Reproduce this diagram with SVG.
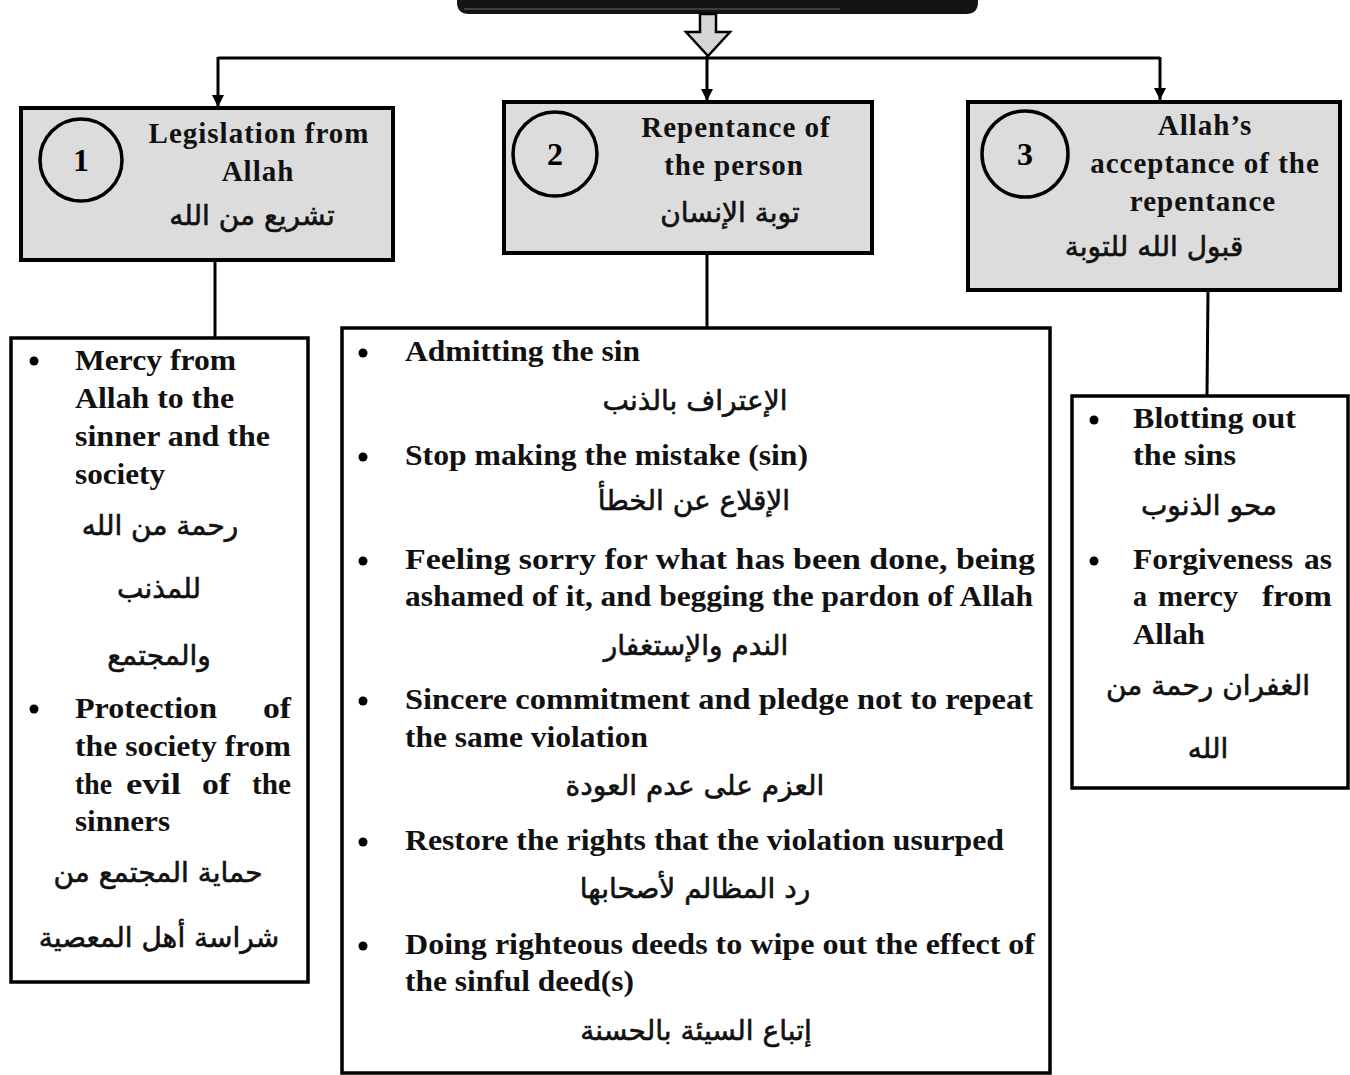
<svg xmlns="http://www.w3.org/2000/svg" width="1350" height="1075" viewBox="0 0 1350 1075">
<style>
.hdr{fill:#dcdcdc;stroke:#000;stroke-width:4}
.box{fill:#fff;stroke:#000;stroke-width:3.5}
.circ{fill:#dcdcdc;stroke:#000;stroke-width:3.5}
.en{font-family:"Liberation Serif","Times New Roman",serif;font-weight:bold;font-size:29px;fill:#111}
.es{font-family:"Liberation Serif","Times New Roman",serif;font-weight:bold;font-size:30px;fill:#111}
.ht{font-family:"Liberation Serif","Times New Roman",serif;font-weight:bold;font-size:29px;fill:#111;text-anchor:middle;letter-spacing:1px}
.num{font-family:"Liberation Serif","Times New Roman",serif;font-weight:bold;font-size:32px;fill:#000;text-anchor:middle}
.ar{font-family:"DejaVu Sans","Noto Sans",sans-serif;font-size:28px;fill:#111;stroke:#111;stroke-width:0.6;text-anchor:middle}
.con{stroke:#000;stroke-width:3;fill:none}
.bul{fill:#000}
</style>
<defs>
<marker id="ah" viewBox="0 0 10 10" refX="10" refY="5" markerWidth="4" markerHeight="4" markerUnits="strokeWidth" orient="auto">
<path d="M0,0 L10,5 L0,10 Z" fill="#000"/>
</marker>
</defs>
<rect width="1350" height="1075" fill="#fff"/>

<g id="top-box">
<path d="M457,-20 L978,-20 L978,2 Q978,14 966,14 L469,14 Q457,14 457,2 Z" fill="#141414"/>
<line x1="464" y1="9" x2="840" y2="9" stroke="#666" stroke-width="1"/>
</g>

<g id="connectors">
<path d="M700,14 L716,14 L716,32 L730,32 L708,56 L686,32 L700,32 Z" fill="#d6d6d6" stroke="#000" stroke-width="2.5"/>
<line class="con" x1="218" y1="58" x2="1160" y2="58"/>
<line class="con" x1="218" y1="57" x2="218" y2="107" marker-end="url(#ah)"/>
<line class="con" x1="707" y1="56" x2="707" y2="101" marker-end="url(#ah)"/>
<line class="con" x1="1160" y1="57" x2="1160" y2="100" marker-end="url(#ah)"/>
<line class="con" x1="215" y1="260" x2="215" y2="337"/>
<line class="con" x1="707" y1="253" x2="707" y2="327"/>
<line class="con" x1="1208" y1="290" x2="1207" y2="395"/>
</g>

<g id="node1">
<rect class="hdr" x="21" y="108" width="372" height="152"/>
<circle class="circ" cx="81" cy="160" r="41"/>
<text class="num" x="81" y="171">1</text>
<text class="ht" x="259" y="143">Legislation from</text>
<text class="ht" x="258" y="181">Allah</text>
<text class="ar" x="252" y="225">تشريع من الله</text>
</g>

<g id="node2">
<rect class="hdr" x="504" y="102" width="368" height="151"/>
<circle class="circ" cx="555" cy="154" r="42"/>
<text class="num" x="555" y="165">2</text>
<text class="ht" x="736" y="137">Repentance of</text>
<text class="ht" x="734" y="175">the person</text>
<text class="ar" x="730" y="222">توبة الإنسان</text>
</g>

<g id="node3">
<rect class="hdr" x="968" y="102" width="372" height="188"/>
<circle class="circ" cx="1025" cy="154" r="43"/>
<text class="num" x="1025" y="165">3</text>
<text class="ht" x="1205" y="135">Allah’s</text>
<text class="ht" x="1205" y="173">acceptance of the</text>
<text class="ht" x="1203" y="211">repentance</text>
<text class="ar" x="1154" y="256">قبول الله للتوبة</text>
</g>

<g id="node1-details">
<rect class="box" x="11" y="338" width="297" height="644"/>
<circle class="bul" cx="34" cy="361" r="4.5"/>
<text class="es" x="75" y="370" textLength="161" lengthAdjust="spacingAndGlyphs">Mercy from</text>
<text class="es" x="75" y="408" textLength="159" lengthAdjust="spacingAndGlyphs">Allah to the</text>
<text class="es" x="75" y="446" textLength="195" lengthAdjust="spacingAndGlyphs">sinner and the</text>
<text class="es" x="75" y="484" textLength="90" lengthAdjust="spacingAndGlyphs">society</text>
<text class="ar" x="160" y="535">رحمة من الله</text>
<text class="ar" x="159" y="598">للمذنب</text>
<text class="ar" x="159" y="665">والمجتمع</text>
<circle class="bul" cx="34" cy="709" r="4.5"/>
<text class="es" x="75" y="718" textLength="142" lengthAdjust="spacingAndGlyphs">Protection</text>
<text class="es" x="263" y="718" textLength="28" lengthAdjust="spacingAndGlyphs">of</text>
<text class="es" x="75" y="756" textLength="216" lengthAdjust="spacingAndGlyphs">the society from</text>
<text class="es" x="75" y="794" textLength="37" lengthAdjust="spacingAndGlyphs">the</text>
<text class="es" x="126" y="794" textLength="55" lengthAdjust="spacingAndGlyphs">evil</text>
<text class="es" x="202" y="794" textLength="28" lengthAdjust="spacingAndGlyphs">of</text>
<text class="es" x="252" y="794" textLength="39" lengthAdjust="spacingAndGlyphs">the</text>
<text class="es" x="75" y="831" textLength="95" lengthAdjust="spacingAndGlyphs">sinners</text>
<text class="ar" x="158" y="882">حماية المجتمع من</text>
<text class="ar" x="159" y="947">شراسة أهل المعصية</text>
</g>

<g id="node2-details">
<rect class="box" x="342" y="328" width="708" height="745"/>
<circle class="bul" cx="363" cy="353" r="4.5"/>
<text class="en" x="405" y="361" textLength="235" lengthAdjust="spacingAndGlyphs">Admitting the sin</text>
<text class="ar" x="695" y="410">الإعتراف بالذنب</text>
<circle class="bul" cx="363" cy="457" r="4.5"/>
<text class="en" x="405" y="465" textLength="403" lengthAdjust="spacingAndGlyphs">Stop making the mistake (sin)</text>
<text class="ar" x="694" y="510">الإقلاع عن الخطأ</text>
<circle class="bul" cx="363" cy="561" r="4.5"/>
<text class="en" x="405" y="569" textLength="630" lengthAdjust="spacingAndGlyphs">Feeling sorry for what has been done, being</text>
<text class="en" x="405" y="606" textLength="628" lengthAdjust="spacingAndGlyphs">ashamed of it, and begging the pardon of Allah</text>
<text class="ar" x="696" y="655">الندم والإستغفار</text>
<circle class="bul" cx="363" cy="701" r="4.5"/>
<text class="en" x="405" y="709" textLength="628" lengthAdjust="spacingAndGlyphs">Sincere commitment and pledge not to repeat</text>
<text class="en" x="405" y="747" textLength="243" lengthAdjust="spacingAndGlyphs">the same violation</text>
<text class="ar" x="695" y="795">العزم على عدم العودة</text>
<circle class="bul" cx="363" cy="842" r="4.5"/>
<text class="en" x="405" y="850" textLength="599" lengthAdjust="spacingAndGlyphs">Restore the rights that the violation usurped</text>
<text class="ar" x="695" y="898">رد المظالم لأصحابها</text>
<circle class="bul" cx="363" cy="946" r="4.5"/>
<text class="en" x="405" y="954" textLength="630" lengthAdjust="spacingAndGlyphs">Doing righteous deeds to wipe out the effect of</text>
<text class="en" x="405" y="991" textLength="229" lengthAdjust="spacingAndGlyphs">the sinful deed(s)</text>
<text class="ar" x="696" y="1040">إتباع السيئة بالحسنة</text>
</g>

<g id="node3-details">
<rect class="box" x="1072" y="396" width="276" height="392"/>
<circle class="bul" cx="1094" cy="420" r="4.5"/>
<text class="es" x="1133" y="428" textLength="163" lengthAdjust="spacingAndGlyphs">Blotting out</text>
<text class="es" x="1133" y="465" textLength="103" lengthAdjust="spacingAndGlyphs">the sins</text>
<text class="ar" x="1209" y="515">محو الذنوب</text>
<circle class="bul" cx="1094" cy="561" r="4.5"/>
<text class="es" x="1133" y="569" textLength="160" lengthAdjust="spacingAndGlyphs">Forgiveness</text>
<text class="es" x="1304" y="569" textLength="28" lengthAdjust="spacingAndGlyphs">as</text>
<text class="es" x="1133" y="606" textLength="14" lengthAdjust="spacingAndGlyphs">a</text>
<text class="es" x="1158" y="606" textLength="80" lengthAdjust="spacingAndGlyphs">mercy</text>
<text class="es" x="1262" y="606" textLength="70" lengthAdjust="spacingAndGlyphs">from</text>
<text class="es" x="1133" y="644" textLength="72" lengthAdjust="spacingAndGlyphs">Allah</text>
<text class="ar" x="1208" y="695">الغفران رحمة من</text>
<text class="ar" x="1208" y="758">الله</text>
</g>
</svg>
